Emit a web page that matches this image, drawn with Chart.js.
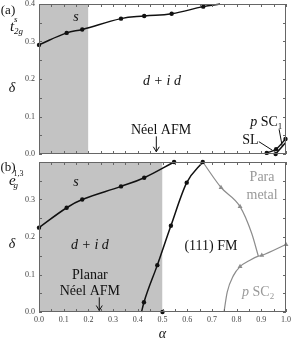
<!DOCTYPE html>
<html>
<head>
<meta charset="utf-8">
<script src="https://cdn.jsdelivr.net/npm/chart.js@4.4.1/dist/chart.umd.min.js"></script>
<style>
body { margin: 0; background: #fff; }
#wrap { position: relative; width: 291px; height: 341px; }
canvas { position: absolute; left: 0; }
#chartA { top: 0; }
#chartB { top: 158px; }
</style>
</head>
<body>
<div id="wrap">
  <canvas id="chartA" width="291" height="158"></canvas>
  <canvas id="chartB" width="291" height="183"></canvas>
</div>
<script>
// tick labels
const alphaTicks = [0, 0.1, 0.2, 0.3, 0.4, 0.5, 0.6, 0.7, 0.8, 0.9, 1.0];
const deltaTicksA = [0, 0.1, 0.2, 0.3, 0.4];
const deltaTicksB = [0, 0.1, 0.2, 0.3];

// panel (a) t2g
const shadeA = [0, 0.2];
const sA_alpha = [0, 0.112, 0.175, 0.332, 0.426, 0.537, 0.665, 0.733];
const sA_delta = [0.291, 0.323, 0.332, 0.361, 0.368, 0.374, 0.393, 0.4];
const slA_alpha = [0.922, 0.96, 0.998];
const slA_delta = [0.003, 0.013, 0.04];
const psc1A_alpha = [0.958, 0.998];
const psc1A_delta = [0, 0.03];

// panel (b) eg
const shadeB = [0, 0.5];
const sB_alpha = [0, 0.112, 0.175, 0.332, 0.426, 0.547];
const sB_delta = [0.225, 0.278, 0.3, 0.335, 0.358, 0.4];
const fmB_alpha = [0.415, 0.425, 0.479, 0.534, 0.598, 0.663];
const fmB_delta = [0, 0.026, 0.125, 0.23, 0.345, 0.4];
const dotB_alpha = [0.5];
const dotB_delta = [0];
const paraB_alpha = [0.663, 0.737, 0.814, 0.861, 0.888];
const paraB_delta = [0.4, 0.332, 0.281, 0.21, 0.149];
const psc2B_alpha = [0.749, 0.762, 0.787, 0.814, 0.854, 0.888, 0.902, 1.0];
const psc2B_delta = [0, 0.053, 0.097, 0.121, 0.138, 0.149, 0.151, 0.18];

const SERIF = "'Liberation Serif', 'DejaVu Serif', serif";
const GREY = '#8c8c8c';
const pts = (xs, ys) => xs.map((x, i) => ({ x: x, y: ys[i] }));

function shade(range, top) {
    return {
        data: [{ x: range[0], y: top }, { x: range[1], y: top }],
        showLine: true, fill: 'origin', backgroundColor: '#c3c3c3', borderWidth: 0,
        borderColor: 'rgba(0,0,0,0)', pointRadius: 0, order: 10
    };
}
function curve(xs, ys, color, marked, style, smooth) {
    return {
        data: pts(xs, ys),
        showLine: true,
        cubicInterpolationMode: smooth ? 'default' : 'monotone', tension: 0.4,
        borderColor: color, borderWidth: color === GREY ? 1.2 : 1.5,
        backgroundColor: color, pointBorderColor: color,
        pointStyle: style || 'circle',
        pointRadius: (c) => marked.includes(c.dataIndex) ? (style ? 2.8 : 2.2) : 0,
        pointBorderWidth: 0, clip: 5, order: 1
    };
}

function txt(ctx, runs, x, y, align) {
    let w = 0;
    runs.forEach(r => { ctx.font = r.f; w += ctx.measureText(r.t).width; });
    let cx = align === 'left' ? x : x - w / 2;
    runs.forEach(r => {
        ctx.font = r.f;
        ctx.fillStyle = r.c || '#111';
        ctx.fillText(r.t, cx, y + (r.dy || 0));
        cx += ctx.measureText(r.t).width;
    });
}
function arrow(ctx, x, y1, y2) {
    ctx.strokeStyle = '#111'; ctx.lineWidth = 1;
    ctx.beginPath(); ctx.moveTo(x, y1); ctx.lineTo(x, y2);
    ctx.moveTo(x - 3, y2 - 5); ctx.lineTo(x, y2); ctx.lineTo(x + 3, y2 - 5);
    ctx.stroke();
}
function line(ctx, x1, y1, x2, y2) {
    ctx.strokeStyle = '#111'; ctx.lineWidth = 1;
    ctx.beginPath(); ctx.moveTo(x1, y1); ctx.lineTo(x2, y2); ctx.stroke();
}

const drawers = {};

const framePlugin = {
    id: 'frame',
    afterDatasetsDraw(chart) {
        const { ctx, chartArea: a, scales: { x, y } } = chart;
        ctx.save();
        ctx.strokeStyle = '#666'; ctx.lineWidth = 1;
        ctx.strokeRect(a.left + 0.5, a.top + 0.5, a.right - a.left - 1, a.bottom - a.top - 1);
        ctx.beginPath();
        for (let i = 0; i <= 20; i++) {
            const px = Math.round(x.getPixelForValue(i * 0.05)) + 0.5;
            ctx.moveTo(px, a.bottom); ctx.lineTo(px, a.bottom - 3);
            ctx.moveTo(px, a.top); ctx.lineTo(px, a.top + 3);
        }
        for (let i = 0; i <= 8; i++) {
            const py = Math.round(y.getPixelForValue(i * 0.05)) + 0.5;
            ctx.moveTo(a.left, py); ctx.lineTo(a.left + 3, py);
            ctx.moveTo(a.right, py); ctx.lineTo(a.right - 3, py);
        }
        ctx.stroke();
        const P = (ax, d) => [x.getPixelForValue(ax), y.getPixelForValue(d)];
        ctx.textAlign = 'left'; ctx.textBaseline = 'middle';
        drawers[chart.canvas.id](ctx, P, a);
        ctx.restore();
    }
};

function makeChart(id, datasets, yTicks, showX, pad) {
    return new Chart(document.getElementById(id), {
        type: 'scatter',
        data: { datasets: datasets },
        options: {
            responsive: false, animation: false, devicePixelRatio: 1,
            layout: { padding: pad },
            plugins: { legend: { display: false }, tooltip: { enabled: false } },
            scales: {
                x: {
                    type: 'linear', min: 0, max: 1, display: showX,
                    afterBuildTicks: (s) => { s.ticks = alphaTicks.map(v => ({ value: v })); },
                    afterFit: (s) => {
                        if (s.options.display) s.height = 29;
                        s.paddingLeft = 0; s.paddingRight = 0;
                    },
                    grid: { display: false, drawTicks: false }, border: { display: false },
                    ticks: { padding: 3, color: '#444', font: { family: SERIF, size: 8 }, maxRotation: 0,
                        callback: (v) => v.toFixed(1) }
                },
                y: {
                    type: 'linear', min: 0, max: 0.4,
                    afterBuildTicks: (s) => { s.ticks = yTicks.map(v => ({ value: v })); },
                    afterFit: (s) => { s.width = 39; s.paddingTop = 0; s.paddingBottom = 0; },
                    grid: { display: false, drawTicks: false }, border: { display: false },
                    ticks: { padding: 4, color: '#444', font: { family: SERIF, size: 8 },
                        callback: (v) => v.toFixed(1) }
                }
            }
        },
        plugins: [framePlugin]
    });
}

const IT = (s) => 'italic ' + s + 'px ' + SERIF;
const UP = (s) => s + 'px ' + SERIF;

drawers.chartA = (ctx, P) => {
    let p;
    p = P(0.15, 0.364); txt(ctx, [{ t: 's', f: IT(14) }], p[0], p[1]);
    p = P(0.498, 0.195); txt(ctx, [{ t: 'd + i d', f: IT(14) }], p[0], p[1]);
    p = P(0.494, 0.063); txt(ctx, [{ t: 'Néel AFM', f: UP(14) }], p[0], p[1]);
    p = P(0.475, 0.047); const q = P(0.475, 0.006); arrow(ctx, p[0], p[1], q[1]);
    p = P(0.92, 0.084);
    txt(ctx, [{ t: 'p', f: IT(14) }, { t: ' SC', f: UP(14) }, { t: '1', f: UP(9), dy: 4 }], p[0], p[1]);
    p = P(0.856, 0.037); txt(ctx, [{ t: 'SL', f: UP(14) }], p[0], p[1]);
    let a1 = P(0.89, 0.033), a2 = P(0.945, 0.01); line(ctx, a1[0], a1[1], a2[0], a2[1]);
    a1 = P(0.972, 0.066); a2 = P(0.985, 0.02); line(ctx, a1[0], a1[1], a2[0], a2[1]);
    // outer labels
    txt(ctx, [{ t: '(a)', f: UP(13) }], 8, 11);
    txt(ctx, [{ t: 't', f: IT(15) }], 10, 27, 'left');
    txt(ctx, [{ t: 's', f: IT(9) }], 14, 20, 'left');
    txt(ctx, [{ t: '2g', f: IT(9) }], 14, 32, 'left');
    txt(ctx, [{ t: 'δ', f: IT(14) }], 12, 88);
};

drawers.chartB = (ctx, P, a) => {
    let p;
    p = P(0.15, 0.347); txt(ctx, [{ t: 's', f: IT(14) }], p[0], p[1]);
    p = P(0.206, 0.178); txt(ctx, [{ t: 'd + i d', f: IT(14) }], p[0], p[1]);
    p = P(0.206, 0.097); txt(ctx, [{ t: 'Planar', f: UP(14) }], p[0], p[1]);
    p = P(0.206, 0.054); txt(ctx, [{ t: 'Néel AFM', f: UP(14) }], p[0], p[1]);
    p = P(0.244, 0.039); const q = P(0.244, 0.004); arrow(ctx, p[0], p[1], q[1]);
    p = P(0.696, 0.176); txt(ctx, [{ t: '(111) FM', f: UP(14) }], p[0], p[1]);
    p = P(0.903, 0.36); txt(ctx, [{ t: 'Para', f: UP(14), c: '#999' }], p[0], p[1]);
    p = P(0.903, 0.312); txt(ctx, [{ t: 'metal', f: UP(14), c: '#999' }], p[0], p[1]);
    p = P(0.887, 0.052);
    txt(ctx, [{ t: 'p', f: IT(14), c: '#999' }, { t: ' SC', f: UP(14), c: '#999' }, { t: '2', f: UP(9), c: '#999', dy: 4 }], p[0], p[1]);
    // outer labels
    txt(ctx, [{ t: '(b)', f: UP(13) }], 8, 9.5);
    txt(ctx, [{ t: 'e', f: IT(15) }], 9, 23, 'left');
    txt(ctx, [{ t: '1,3', f: UP(8) }], 13.5, 16, 'left');
    txt(ctx, [{ t: 'g', f: IT(9) }], 13.5, 28, 'left');
    txt(ctx, [{ t: 'δ', f: IT(14) }], 12, 86);
    txt(ctx, [{ t: 'α', f: IT(14) }], (a.left + a.right) / 2, 176);
};

makeChart('chartA', [
    shade(shadeA, 0.4),
    curve(sA_alpha, sA_delta, '#111', [0, 1, 2, 3, 4, 5, 6], null, true),
    curve(slA_alpha, slA_delta, '#111', [0, 1, 2]),
    curve(psc1A_alpha, psc1A_delta, '#111', [0])
], deltaTicksA, false, { top: 4, right: 5, bottom: 2, left: 0 });

makeChart('chartB', [
    shade(shadeB, 0.4),
    curve(sB_alpha, sB_delta, '#111', [0, 1, 2, 3, 4, 5], null, true),
    curve(fmB_alpha, fmB_delta, '#111', [1, 2, 3, 4, 5]),
    curve(dotB_alpha, dotB_delta, '#111', [0]),
    curve(paraB_alpha, paraB_delta, GREY, [1, 2], 'triangle'),
    curve(psc2B_alpha, psc2B_delta, GREY, [3, 6, 7], 'triangle')
], deltaTicksB, true, { top: 2, right: 5, bottom: 0, left: 0 });
</script>
</body>
</html>
